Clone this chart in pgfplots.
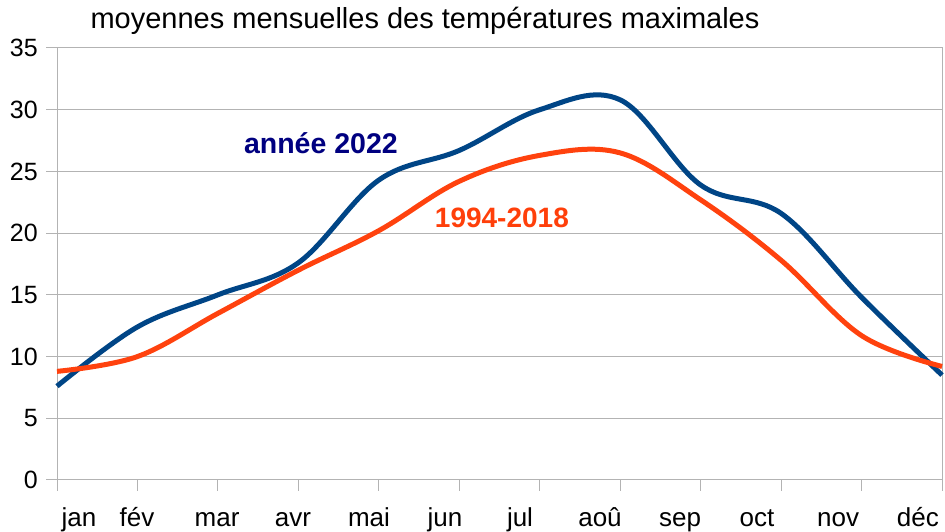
\documentclass[border=0pt]{standalone}
\usepackage{pgfplots}
\pgfplotsset{compat=1.18}
\usepackage{fontspec}
\setmainfont{Liberation Sans}
\definecolor{serA}{HTML}{004586}
\definecolor{serB}{HTML}{FF420E}
\definecolor{labA}{HTML}{000080}
\definecolor{labB}{HTML}{FF3F0A}
\definecolor{gridc}{HTML}{B3B3B3}
\begin{document}
\begin{tikzpicture}[x=1bp,y=1bp]
\useasboundingbox (0,0) rectangle (945,532);
\node[anchor=base, inner sep=0pt, font=\fontsize{29bp}{34bp}\selectfont] at (425,503) {moyennes mensuelles des températures maximales};
\begin{axis}[
  at={(57bp,52bp)}, anchor=south west,
  scale only axis, width=885bp, height=432bp,
  xmin=0, xmax=11, ymin=0, ymax=35,
  ytick={0,5,...,35},
  xtick={0,...,11}, xticklabels={},
  ymajorgrids, grid style={gridc, line width=1bp},
  axis line style={gridc, line width=1bp},
  tick style={gridc, line width=1bp},
  tick align=outside, major tick length=11bp,
  xtick pos=bottom, ytick pos=left,
  extra x ticks={0.273,0.994,1.989,2.933,3.878,4.823,5.755,6.749,7.744,8.701,9.708,10.70},
  extra x tick labels={jan,fév,mar,avr,mai,jun,jul,aoû,sep,oct,nov,déc},
  extra x tick style={major tick length=0pt, grid=none},
  xticklabel style={anchor=base, yshift=-47bp, inner sep=0pt, font=\fontsize{26bp}{30bp}\selectfont},
  yticklabel style={anchor=east, inner sep=0pt, xshift=-8bp, font=\fontsize{25bp}{30bp}\selectfont},
  /pgf/number format/assume math mode=true,
  clip=false,
]
\addplot[serA, line width=5bp, smooth, tension=0.6] coordinates {
(0,7.6) (1,12.4) (2,15.0) (3,17.6) (4,24.3) (5,26.7) (6,30.0) (7,30.8) (8,23.9) (9,21.6) (10,14.8) (11,8.5)};
\addplot[serB, line width=5bp, smooth, tension=0.6] coordinates {
(0,8.8) (1,10.0) (2,13.5) (3,17.0) (4,20.2) (5,24.2) (6,26.3) (7,26.5) (8,22.7) (9,17.8) (10,11.7) (11,9.2)};
\node[labA, font=\bfseries\fontsize{28.5bp}{32bp}\selectfont] at (axis cs:3.28,27.3) {année 2022};
\node[labB, font=\bfseries\fontsize{28bp}{32bp}\selectfont] at (axis cs:5.53,21.2) {1994-2018};
\end{axis}
\end{tikzpicture}
\end{document}
